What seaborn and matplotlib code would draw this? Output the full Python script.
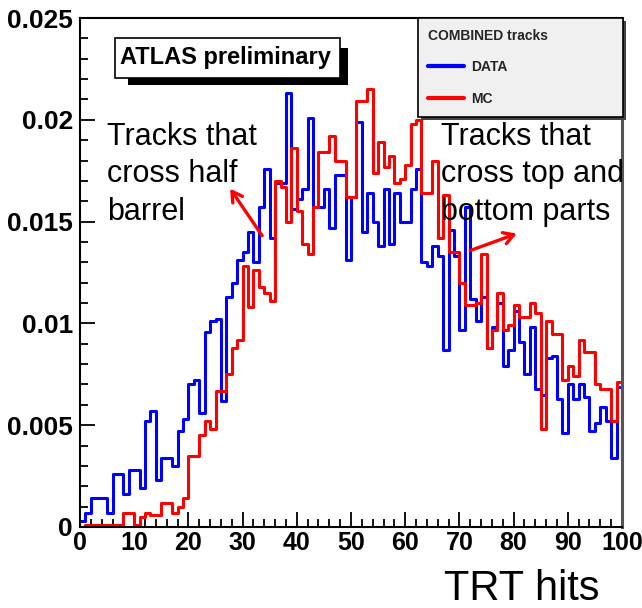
import numpy as np
import pandas as pd
import matplotlib
matplotlib.use("Agg")
import matplotlib.pyplot as plt
import seaborn as sns
from matplotlib.patches import Rectangle
from matplotlib.ticker import MultipleLocator, FuncFormatter
from matplotlib.transforms import ScaledTranslation

# Normalised TRT-hit distributions, one value per unit-wide bin (0..100)
trt_hits = np.arange(100) + 0.5

data_frac = [
    0.0003, 0.0007, 0.0014, 0.0014, 0.0014, 0.0007, 0.0026, 0.0026, 0.0016, 0.0028,
    0.0028, 0.0019, 0.0052, 0.0057, 0.0023, 0.0034, 0.0034, 0.0030, 0.0047, 0.0053,
    0.0070, 0.0072, 0.0056, 0.0096, 0.0101, 0.0102, 0.0062, 0.0113, 0.0120, 0.0131,
    0.0135, 0.0145, 0.0130, 0.0157, 0.0176, 0.0142, 0.0169, 0.0169, 0.0213, 0.0156,
    0.0161, 0.0166, 0.0201, 0.0157, 0.0157, 0.0166, 0.0147, 0.0173, 0.0173, 0.0131,
    0.0162, 0.0199, 0.0145, 0.0164, 0.0150, 0.0138, 0.0166, 0.0139, 0.0164, 0.0150,
    0.0150, 0.0166, 0.0176, 0.0130, 0.0128, 0.0138, 0.0133, 0.0087, 0.0146, 0.0133,
    0.0097, 0.0157, 0.0112, 0.0101, 0.0113, 0.0088, 0.0098, 0.0110, 0.0079, 0.0087,
    0.0106, 0.0091, 0.0075, 0.0098, 0.0068, 0.0065, 0.0083, 0.0084, 0.0063, 0.0046,
    0.0070, 0.0063, 0.0070, 0.0064, 0.0047, 0.0051, 0.0059, 0.0052, 0.0034, 0.0069,
]

mc_frac = [
    0.0000, 0.0001, 0.0001, 0.0001, 0.0001, 0.0001, 0.0001, 0.0001, 0.0007, 0.0007,
    0.0001, 0.0005, 0.0007, 0.0006, 0.0006, 0.0012, 0.0012, 0.0007, 0.0010, 0.0014,
    0.0035, 0.0035, 0.0045, 0.0052, 0.0048, 0.0067, 0.0067, 0.0075, 0.0088, 0.0092,
    0.0128, 0.0108, 0.0126, 0.0118, 0.0115, 0.0111, 0.0170, 0.0167, 0.0150, 0.0186,
    0.0155, 0.0139, 0.0134, 0.0157, 0.0184, 0.0184, 0.0192, 0.0180, 0.0180, 0.0162,
    0.0162, 0.0209, 0.0209, 0.0215, 0.0174, 0.0189, 0.0177, 0.0182, 0.0169, 0.0171,
    0.0178, 0.0198, 0.0200, 0.0164, 0.0164, 0.0180, 0.0142, 0.0163, 0.0135, 0.0135,
    0.0120, 0.0109, 0.0109, 0.0110, 0.0134, 0.0088, 0.0097, 0.0115, 0.0097, 0.0099,
    0.0109, 0.0103, 0.0103, 0.0110, 0.0105, 0.0048, 0.0101, 0.0095, 0.0095, 0.0072,
    0.0079, 0.0074, 0.0092, 0.0086, 0.0086, 0.0070, 0.0068, 0.0068, 0.0052, 0.0071,
]

sample_labels = ["DATA", "MC"]
sample_colors = {"DATA": "#0000ff", "MC": "#ff0000"}

W, H = 642, 608


def fx(px):
    return px / W


def fy(py):
    return 1 - py / H


sns.set_theme(style="white")
plt.rcParams["font.family"] = ["Liberation Sans", "DejaVu Sans"]

fig = plt.figure(figsize=(W / 100, H / 100), dpi=100)
ax = fig.add_axes([fx(80), fy(527), fx(622) - fx(80), fy(18) - fy(527)])

df = pd.DataFrame({
    "hits": np.concatenate([trt_hits, trt_hits]),
    "frac": np.concatenate([data_frac, mc_frac]),
    "sample": [sample_labels[0]] * len(data_frac) + [sample_labels[1]] * len(mc_frac),
})

handles = []
for name in sample_labels:
    sns.histplot(data=df[df["sample"] == name], x="hits", weights="frac",
                 binwidth=1, binrange=(0, 100), element="step", fill=False,
                 color=sample_colors[name], linewidth=2.2, ax=ax)
    handles.append(ax.lines[-1])

ax.set_xlim(0, 100)
ax.set_ylim(0, 0.025)
ax.set_xlabel("")
ax.set_ylabel("")

ax.xaxis.set_major_locator(MultipleLocator(10))
ax.xaxis.set_minor_locator(MultipleLocator(2))
ax.yaxis.set_major_locator(MultipleLocator(0.005))
ax.yaxis.set_minor_locator(MultipleLocator(0.001))
ax.yaxis.set_major_formatter(FuncFormatter(lambda v, p: f"{v:g}"))
ax.xaxis.set_major_formatter(FuncFormatter(lambda v, p: f"{v:g}"))

ax.tick_params(which="both", direction="in", left=True, bottom=True,
               top=False, right=False, color="black", width=1.3)
ax.tick_params(which="major", length=11)
ax.tick_params(which="minor", length=5.5)
ax.tick_params(axis="x", which="major", pad=3, labelsize=18)
ax.tick_params(axis="y", which="major", pad=5, labelsize=19)
for lbl in ax.get_xticklabels() + ax.get_yticklabels():
    lbl.set_fontweight("bold")
    lbl.set_color("black")

# keep the last x label inside the canvas
last_tick = ax.xaxis.get_major_ticks()[-1]
last_tick.label1.set_transform(last_tick.label1.get_transform()
                               + ScaledTranslation(-5 / 100, 0, fig.dpi_scale_trans))

for side in ["left", "bottom", "top"]:
    ax.spines[side].set_color("black")
    ax.spines[side].set_linewidth(1.5)
ax.spines["right"].set_color("#555555")
ax.spines["right"].set_linewidth(2.2)

# ATLAS label box with shadow
ax.add_patch(Rectangle((fx(128), fy(85)), fx(348) - fx(128), fy(48) - fy(85),
                       transform=fig.transFigure, facecolor="black",
                       edgecolor="none", zorder=5, clip_on=False))
ax.add_patch(Rectangle((fx(115), fy(78)), fx(340) - fx(115), fy(38) - fy(78),
                       transform=fig.transFigure, facecolor="white",
                       edgecolor="black", linewidth=1.2, zorder=6, clip_on=False))
fig.text(fx(225), fy(64), "ATLAS preliminary", ha="center", va="baseline",
         fontsize=17, fontweight="bold", color="black", zorder=7)

# Legend box with shadow
ax.add_patch(Rectangle((fx(421), fy(120)), fx(626) - fx(421), fy(21) - fy(120),
                       transform=fig.transFigure, facecolor="#444444",
                       edgecolor="none", zorder=5, clip_on=False))
ax.add_patch(Rectangle((fx(418), fy(117)), fx(623) - fx(418), fy(18) - fy(117),
                       transform=fig.transFigure, facecolor="#f0f0f0",
                       edgecolor="black", linewidth=1.2, zorder=6, clip_on=False))
leg = ax.legend(handles=handles, labels=sample_labels, title="COMBINED tracks",
                loc="upper left", bbox_to_anchor=(fx(428), fy(29)),
                bbox_transform=fig.transFigure, frameon=False,
                prop={"weight": "bold", "size": 10},
                title_fontproperties={"weight": "bold", "size": 10},
                alignment="left", handlelength=2.6, handletextpad=0.5,
                labelspacing=1.25, borderpad=0, borderaxespad=0)
leg.set_zorder(8)
for line in leg.get_lines():
    line.set_linewidth(3)

# Annotations for the two track topologies
ax.text(5.0, 0.0199, "Tracks that\ncross half\nbarrel", ha="left", va="top",
        fontsize=22, color="black", linespacing=1.32, zorder=4)
ax.text(66.6, 0.0199, "Tracks that\ncross top and\nbottom parts", ha="left", va="top",
        fontsize=22, color="black", linespacing=1.32, zorder=4)
ax.annotate("", xy=(27.7, 0.01662), xytext=(33.6, 0.01431),
            arrowprops=dict(arrowstyle="->,head_length=0.6,head_width=0.35",
                            color="#ff0000", lw=2.4, shrinkA=0, shrinkB=0),
            zorder=4)
ax.annotate("", xy=(80.6, 0.01441), xytext=(72.0, 0.01358),
            arrowprops=dict(arrowstyle="->,head_length=0.6,head_width=0.35",
                            color="#ff0000", lw=2.4, shrinkA=0, shrinkB=0),
            zorder=4)

fig.text(fx(600), fy(600), "TRT hits", ha="right", va="baseline",
         fontsize=30, color="black")

fig.savefig("out.png", dpi=100)
